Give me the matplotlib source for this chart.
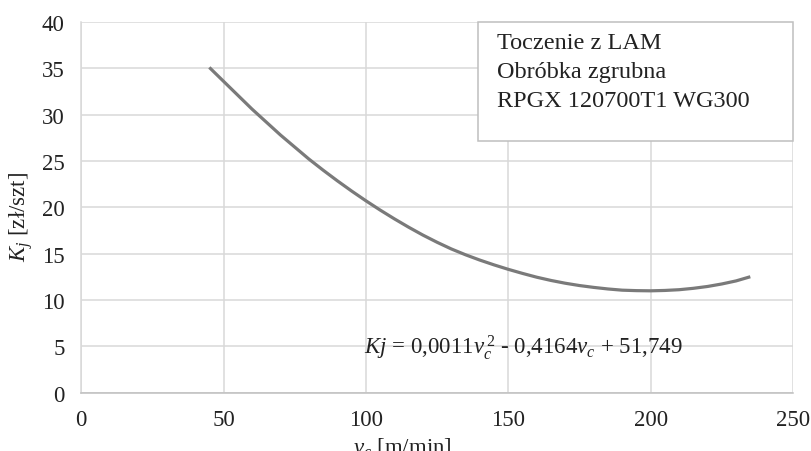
import matplotlib
matplotlib.use("Agg")
import matplotlib.pyplot as plt

plt.rcParams['font.family'] = ['Liberation Serif', 'DejaVu Serif']
plt.rcParams['mathtext.fontset'] = 'custom'
plt.rcParams['mathtext.rm'] = 'Liberation Serif'
plt.rcParams['mathtext.it'] = 'Liberation Serif:italic'

# values
vc = [45, 50, 55, 60, 65, 70, 75, 80, 85, 90, 95, 100, 105, 110, 115, 120,
      125, 130, 135, 140, 145, 150, 155, 160, 165, 170, 175, 180, 185, 190,
      195, 200, 205, 210, 215, 220, 225, 230, 235]
kj = [35.1, 33.6, 32.1, 30.6, 29.2, 27.8, 26.5, 25.2, 24.0, 22.85, 21.75,
      20.7, 19.7, 18.75, 17.85, 17.0, 16.22, 15.5, 14.87, 14.3, 13.78, 13.3,
      12.86, 12.45, 12.1, 11.8, 11.55, 11.35, 11.18, 11.05, 11.0, 10.98,
      11.02, 11.1, 11.25, 11.45, 11.72, 12.05, 12.5]

x_ticks = [0, 50, 100, 150, 200, 250]
y_ticks = [0, 5, 10, 15, 20, 25, 30, 35, 40]
box_lines = ["Toczenie z LAM", "Obróbka zgrubna", "RPGX 120700T1 WG300"]
equation = r"$Kj$ = 0,0011$v_c^{\,2}$ - 0,4164$v_c$ + 51,749"

fig = plt.figure(figsize=(8.12, 4.52), dpi=100)
ax = fig.add_axes([0.1, 0.1294, 0.8766, 0.8196])

ax.plot(vc, kj, color="#7a7a7a", lw=2.3, solid_capstyle="butt", zorder=3)

ax.set_xlim(0, 250)
ax.set_ylim(0, 40)
ax.set_xticks(x_ticks)
ax.set_yticks(y_ticks)
ax.grid(True, color="#d9d9d9", lw=1.1)
ax.set_axisbelow(True)
ax.tick_params(length=0, labelsize=16.5, pad=12, colors="#222222")
for side in ["top", "right"]:
    ax.spines[side].set_visible(False)
ax.spines["left"].set_color("#d9d9d9")
ax.spines["bottom"].set_color("#bfbfbf")
ax.spines["left"].set_linewidth(1.1)
ax.spines["bottom"].set_linewidth(1.1)

# info box in the top right corner
ax.text(0.584, 0.972, "\n".join(box_lines), transform=ax.transAxes,
        fontsize=17.5, va="top", ha="left", color="#222222", linespacing=1.5,
        zorder=5)
box = plt.Rectangle((0.557, 0.68), 0.443, 0.32, transform=ax.transAxes,
                    facecolor="white", edgecolor="#bfbfbf", lw=1.1, zorder=4,
                    clip_on=False)
ax.add_patch(box)

ax.text(99.5, 5.0, equation, fontsize=16.5, va="center", ha="left",
        color="#222222", zorder=4)

fig.text(0.026, 1 - 217 / 452, r"$K_j$ [zł/szt]", rotation=90, fontsize=16.5,
         va="center", ha="center", color="#222222")
fig.text(402 / 812, 1 - 436 / 452, r"$v_c$ [m/min]", fontsize=16.5,
         va="top", ha="center", color="#222222")

fig.savefig("out.png", dpi=100)
